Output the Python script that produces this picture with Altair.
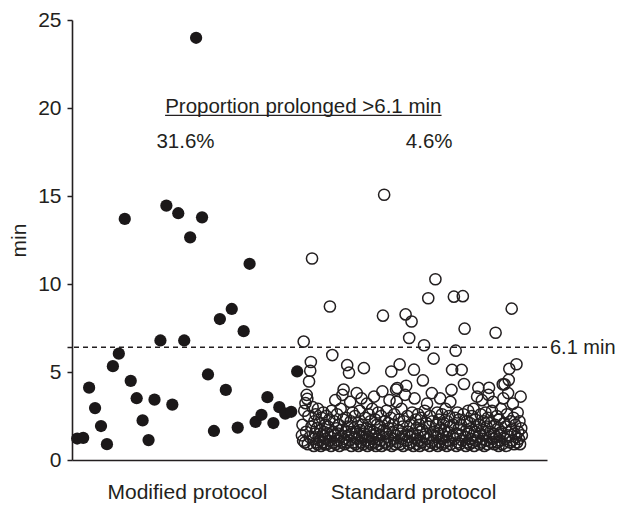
import altair as alt
import pandas as pd

# ---- data ----
modified_min = [1.22, 1.26, 4.11, 2.95, 1.93, 0.90, 5.33, 6.04, 13.70, 4.50,
                3.51, 2.25, 1.13, 3.43, 6.79, 14.45, 3.15, 14.02, 6.79, 12.65,
                23.99, 13.79, 4.86, 1.65, 8.01, 3.98, 8.58, 1.84, 7.32, 11.15,
                2.16, 2.57, 3.57, 2.10, 3.00, 2.63, 2.74, 5.03]

standard_min = [
    1.4, 2.0, 1.1, 6.73, 2.8, 1.0, 3.23, 1.6, 3.70, 3.47, 0.9, 2.5, 4.46, 1.3, 5.07, 5.57, 1.9, 11.45, 3.0, 1.2,
    0.8, 2.2, 1.5, 2.6, 1.0, 1.8, 0.9, 2.9, 1.3, 2.1, 1.1, 1.7, 0.8, 2.4, 1.4, 1.0, 2.7, 1.6, 0.9, 2.0,
    1.2, 2.5, 0.9, 1.5, 1.9, 1.1, 2.3, 8.72, 1.3, 0.8, 2.8, 5.96, 1.6, 1.0, 2.2, 1.4, 3.4, 0.9, 1.8, 2.6,
    1.1, 1.5, 2.0, 0.8, 1.3, 2.9, 1.7, 1.0, 3.7, 2.3, 4.0, 1.2, 0.9, 1.6, 2.4, 1.0, 5.39, 1.9, 1.4, 4.96,
    1.1, 3.3, 2.2, 0.8, 1.5, 2.7, 1.0, 1.8, 1.3, 2.5, 0.9, 1.6, 3.8, 1.2, 2.1, 0.8, 1.4, 2.8, 1.7, 1.0,
    3.5, 1.3, 2.0, 0.9, 5.22, 1.5, 2.4, 1.1, 1.8, 3.2, 0.8, 1.3, 2.6, 1.0, 1.7, 2.2, 0.9, 1.4, 2.9, 1.2,
    1.6, 3.6, 1.0, 2.3, 0.8, 1.5, 2.0, 1.2, 2.7, 0.9, 1.4, 1.9, 1.1, 2.5, 0.8, 3.9, 8.20, 1.7, 15.07, 2.2,
    1.0, 1.5, 2.8, 0.9, 1.3, 2.1, 1.8, 3.4, 1.1, 2.4, 5.03, 0.8, 1.6, 2.0, 1.2, 2.6, 0.9, 1.4, 4.0, 3.3,
    4.09, 1.0, 1.7, 2.3, 5.43, 0.9, 1.5, 2.9, 1.2, 1.9, 0.8, 2.2, 1.4, 3.7, 8.27, 4.22, 1.1, 2.5, 1.6, 0.9,
    6.93, 1.3, 2.0, 1.0, 7.87, 2.7, 1.5, 0.8, 5.13, 3.5, 1.2, 2.3, 1.8, 0.9, 1.4, 2.6, 1.1, 2.0, 0.8, 1.6,
    2.4, 1.0, 1.7, 4.52, 1.3, 6.52, 2.8, 0.9, 1.5, 2.1, 3.2, 1.2, 9.19, 1.9, 0.8, 2.5, 1.4, 1.0, 3.8, 2.2,
    1.1, 5.76, 1.6, 0.9, 10.27, 2.0, 1.3, 2.7, 0.8, 1.5, 2.3, 1.0, 3.5, 1.8, 1.2, 2.6, 0.9, 1.4, 2.1, 1.7,
    1.0, 2.9, 1.3, 0.8, 2.2, 1.6, 1.1, 2.5, 1.9, 3.3, 0.9, 3.98, 5.12, 1.4, 2.0, 9.28, 1.2, 2.4, 6.21, 0.8,
    1.5, 2.7, 1.0, 1.8, 2.3, 0.9, 1.4, 2.0, 5.12, 1.1, 9.31, 2.6, 4.32, 7.46, 1.3, 0.8, 1.7, 2.2, 1.0, 2.8,
    1.5, 0.9, 2.1, 1.2, 1.8, 2.5, 1.0, 1.4, 2.9, 0.8, 1.6, 2.3, 1.1, 1.9, 3.6, 1.3, 4.1, 2.0, 0.9, 1.5,
    2.6, 1.0, 3.4, 1.7, 1.2, 2.2, 0.8, 1.4, 2.7, 1.1, 1.9, 0.9, 2.4, 3.7, 4.1, 1.3, 1.6, 2.1, 1.0, 2.8,
    1.2, 3.3, 1.5, 0.9, 2.0, 7.23, 1.3, 2.5, 1.0, 1.8, 0.8, 2.3, 1.4, 1.1, 2.9, 1.6, 0.9, 4.30, 3.5, 2.1,
    4.3, 1.2, 1.9, 0.8, 2.6, 1.4, 3.8, 4.55, 5.18, 1.0, 2.2, 1.7, 8.6, 1.1, 3.2, 2.4, 0.9, 1.5, 2.0, 1.3,
    5.44, 1.0, 2.7, 1.6, 1.2, 2.2, 0.9, 3.6, 1.8, 1.4,
]

groups = ["Modified protocol", "Standard protocol"]
proportions = ["31.6%", "4.6%"]
header_text = "Proportion prolonged >6.1 min"
threshold_value = 6.4
threshold_label = "6.1 min"
y_ticks = [0, 5, 10, 15, 20, 25]

# strip layout: each group occupies its own band of the x scale (0-100)
bands = {"Modified protocol": (1.1, 47.4), "Standard protocol": (48.4, 94.7)}
label_pos = [24.2, 71.8]


def strip(values, group):
    lo, hi = bands[group]
    n = len(values)
    return pd.DataFrame({
        "pos": [lo + (hi - lo) * i / (n - 1) for i in range(n)],
        "min": values,
        "group": group,
    })


mod_df = strip(modified_min, groups[0])
std_df = strip(standard_min, groups[1])

FONT = "Liberation Sans"
INK = "#231f20"
W, H = 475, 440

xscale = alt.Scale(domain=[0, 100], nice=False, zero=False)
yscale = alt.Scale(domain=[0, 25], nice=False)

label_expr = "datum.value < 50 ? '%s' : '%s'" % (groups[0], groups[1])

x_enc = alt.X("pos:Q", scale=xscale,
              axis=alt.Axis(values=label_pos, labelExpr=label_expr, ticks=False,
                            tickSize=0, grid=False, title=None, labelPadding=21,
                            labelFontSize=21, labelFont=FONT, labelColor=INK,
                            domainColor=INK, domainWidth=1.6, labelFlush=False))
y_enc = alt.Y("min:Q", scale=yscale,
              axis=alt.Axis(values=y_ticks + [threshold_value],
                            labelExpr="datum.value == %s ? '' : datum.label" % threshold_value,
                            title="min", titleFontSize=21, titleFont=FONT,
                            titleFontWeight="normal", titleColor=INK, titlePadding=8,
                            labelFontSize=21, labelFont=FONT, labelColor=INK,
                            tickSize=5, tickColor=INK, tickWidth=1.5, labelPadding=6,
                            domainColor=INK, domainWidth=1.6, grid=False))

filled = alt.Chart(mod_df).mark_circle(size=150, color="#1b1819", opacity=1).encode(
    x=x_enc, y=y_enc)

open_pts = alt.Chart(std_df).mark_point(shape="circle", size=125, filled=False,
                                        stroke=INK, strokeWidth=1.5, opacity=1).encode(
    x=alt.X("pos:Q", scale=xscale), y=alt.Y("min:Q", scale=yscale))

thr_df = pd.DataFrame({"min": [threshold_value], "pos": [100], "label": [threshold_label]})
thr_rule = alt.Chart(thr_df).mark_rule(color=INK, strokeWidth=1.5, strokeDash=[5, 4]).encode(
    y=alt.Y("min:Q", scale=yscale))
thr_text = alt.Chart(thr_df).mark_text(align="left", baseline="middle", dx=3, dy=1,
                                        fontSize=20, font=FONT, color=INK).encode(
    x=alt.X("pos:Q", scale=xscale), y=alt.Y("min:Q", scale=yscale), text="label:N")

head_df = pd.DataFrame({"pos": [48.7], "min": [19.74], "text": [header_text]})
head = alt.Chart(head_df).mark_text(align="center", baseline="alphabetic", fontSize=20.5,
                                    font=FONT, color=INK).encode(
    x=alt.X("pos:Q", scale=xscale), y=alt.Y("min:Q", scale=yscale), text="text:N")

ul_df = pd.DataFrame({"pos": [19.6], "pos2": [77.8], "min": [19.58]})
underline = alt.Chart(ul_df).mark_rule(color=INK, strokeWidth=1.4).encode(
    x=alt.X("pos:Q", scale=xscale), x2="pos2:Q", y=alt.Y("min:Q", scale=yscale))

prop_df = pd.DataFrame({"pos": [23.9, 75.2], "min": [17.72, 17.72], "text": proportions})
props = alt.Chart(prop_df).mark_text(align="center", baseline="alphabetic", fontSize=20.5,
                                     font=FONT, color=INK).encode(
    x=alt.X("pos:Q", scale=xscale), y=alt.Y("min:Q", scale=yscale), text="text:N")

chart = alt.layer(filled, open_pts, thr_rule, thr_text, head, underline, props).properties(
    width=W, height=H,
    autosize=alt.AutoSizeParams(type="none"),
    padding={"left": 64, "top": 12, "right": 68, "bottom": 46},
).configure(background="white").configure_view(stroke=None)

chart.save("out.html", embed_options={"renderer": "svg", "actions": False})
